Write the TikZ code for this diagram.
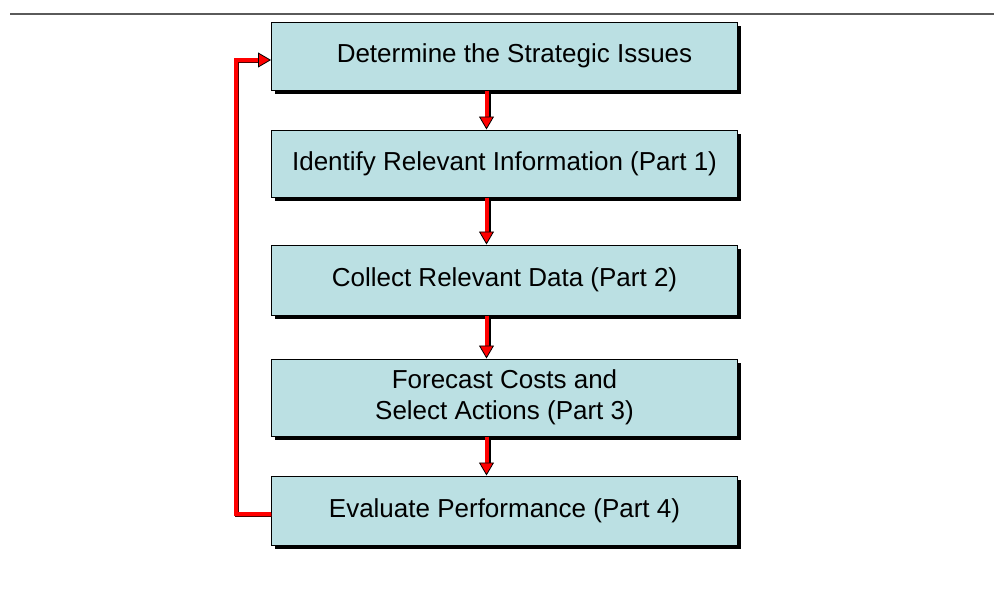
\documentclass[tikz,border=0pt]{standalone}
\usepackage{fontspec}
\setmainfont{Liberation Sans}
\usetikzlibrary{arrows.meta,shadows}
\definecolor{boxfill}{HTML}{BBE0E3}
\definecolor{rulegray}{HTML}{5A5A5A}
\tikzset{
  stepbox/.style={draw=black, line width=1pt, fill=boxfill, rectangle,
    minimum width=466pt, inner sep=0pt, align=center,
    font=\fontsize{26}{31}\selectfont,
    drop shadow={shadow xshift=3.5pt, shadow yshift=-3.5pt, fill=black, opacity=1}},
  redtip/.style={-{Triangle[width=15pt,length=13pt,fill=red,color=black,line width=0.8pt]}},
  shaft/.style={draw=red, line width=4pt, redtip},
  shaftshadow/.style={draw=black, line width=4pt, shorten >=13pt},
  fbline/.style={draw=red, line width=4pt},
  fbshadow/.style={draw=black!70!red, line width=4pt}
}
\begin{document}
\begin{tikzpicture}[x=1pt,y=-1pt]
\useasboundingbox (0,0) rectangle (994,589);
\coordinate (ruleL) at (10,14);
\coordinate (ruleR) at (994,14);
\draw[rulegray, line width=2pt] (ruleL) -- (ruleR);

\node[stepbox, minimum height=68pt] (b1) at (504.5,56) {\hspace*{20pt}Determine the Strategic Issues};
\node[stepbox, minimum height=67pt] (b2) at (504.5,163.5) {Identify Relevant Information (Part 1)};
\node[stepbox, minimum height=70pt] (b3) at (504.5,280) {Collect Relevant Data (Part 2)};
\node[stepbox, minimum height=77pt] (b4) at (504.5,397.5) {Forecast Costs and\\Select Actions (Part 3)};
\node[stepbox, minimum height=69pt] (b5) at (504.5,510.5) {Evaluate Performance (Part 4)};

% vertical connectors
\foreach \a/\b in {b1/b2,b2/b3,b3/b4,b4/b5}{
  \draw[shaftshadow] ([xshift=-16pt]\a.south) -- ([xshift=-16pt]\b.north);
  \draw[shaft] ([xshift=-18pt]\a.south) -- ([xshift=-18pt]\b.north);
}

% feedback loop
\coordinate (fbB) at ([yshift=-3.5pt]b5.west);
\coordinate (fbT) at ([yshift=-4pt]b1.west);
\coordinate (fbC) at (236,514);
\draw[fbshadow] ([xshift=1.2pt,yshift=-1.2pt]fbB) -- ([xshift=1.2pt,yshift=-1.2pt]fbB -| fbC) -- ([xshift=1.2pt,yshift=-1.2pt]fbT -| fbC) -- ([xshift=-12pt,yshift=-1.2pt]fbT);
\draw[fbline, redtip] (fbB) -- (fbB -| fbC) -- (fbT -| fbC) -- (fbT);
\end{tikzpicture}
\end{document}
